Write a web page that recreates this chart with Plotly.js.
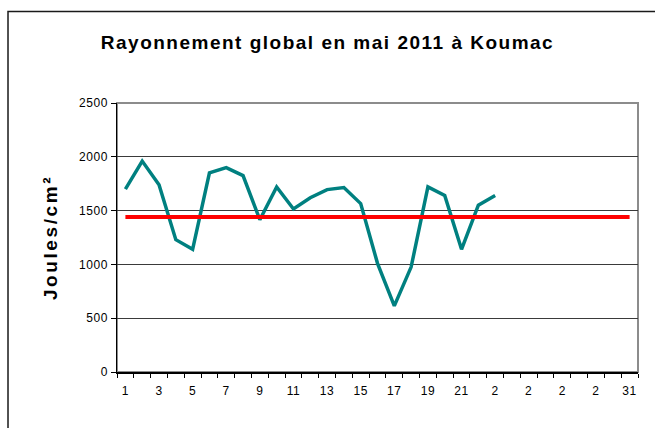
<!DOCTYPE html>
<html>
<head>
<meta charset="utf-8">
<script src="https://cdn.plot.ly/plotly-3.0.1.min.js"></script>
<style>
  html, body { margin: 0; padding: 0; background: #fff; }
  #chart { width: 655px; height: 428px; }
  .gtitle { letter-spacing: 1.5px; }
  .g-ytitle text { letter-spacing: 2.6px; }
  .xtick text, .ytick text { letter-spacing: 0.6px; }
</style>
</head>
<body>
<div id="chart"></div>
<script>
// Days of May 2011 (category axis)
const days = ['1','2','3','4','5','6','7','8','9','10','11','12','13','14','15','16',
              '17','18','19','20','21','22','23','24','25','26','27','28','29','30','31'];
// Tick labels as shown (Excel truncated 23..29 to "2")
const tickLabels = ['1','','3','','5','','7','','9','','11','','13','','15','',
                    '17','','19','','21','','2','','2','','2','','2','','31'];
// Daily global radiation (J/cm²), days 1..23
const rayonnement = [1700, 1960, 1740, 1230, 1140, 1850, 1900, 1825, 1415, 1720,
                     1515, 1620, 1695, 1715, 1565, 1010, 615, 975, 1720, 1640,
                     1140, 1550, 1640];
// Reference level (red line)
const reference = [1440,1440,1440,1440,1440,1440,1440,1440,1440,1440,1440,1440,1440,1440,1440,1440,
                   1440,1440,1440,1440,1440,1440,1440,1440,1440,1440,1440,1440,1440,1440,1440];
const yTicks = [0, 500, 1000, 1500, 2000, 2500];

const font = 'Liberation Sans, Arial, sans-serif';

const traces = [
  {
    x: days.slice(0, rayonnement.length),
    y: rayonnement,
    type: 'scatter',
    mode: 'lines',
    line: { color: '#008080', width: 3.5 },
    hoverinfo: 'skip'
  },
  {
    x: days,
    y: reference,
    type: 'scatter',
    mode: 'lines',
    line: { color: '#ff0000', width: 4 },
    hoverinfo: 'skip'
  }
];

const layout = {
  width: 655,
  height: 428,
  margin: { l: 117, r: 17, t: 103, b: 56, pad: 0 },
  paper_bgcolor: '#ffffff',
  plot_bgcolor: '#ffffff',
  showlegend: false,
  font: { family: font, color: '#000' },
  title: {
    text: 'Rayonnement global en mai 2011 à Koumac',
    font: { family: font, size: 19, color: '#000', weight: 'bold' },
    x: 0.5, xref: 'container', xanchor: 'center',
    y: 0.9, yref: 'container', yanchor: 'middle'
  },
  xaxis: {
    type: 'category',
    categoryorder: 'array',
    categoryarray: days,
    range: [-0.5, 30.5],
    tickmode: 'array',
    tickvals: days,
    ticktext: tickLabels,
    tickson: 'boundaries',
    tickangle: 0,
    ticks: 'outside',
    ticklen: 4,
    tickwidth: 1,
    tickcolor: '#000',
    showline: true,
    linecolor: '#000',
    linewidth: 1.5,
    showgrid: false,
    zeroline: false,
    tickfont: { family: font, size: 12, color: '#000' },
    ticklabelstandoff: 7,
    automargin: false,
    fixedrange: true
  },
  yaxis: {
    range: [0, 2500],
    tickmode: 'array',
    tickvals: yTicks,
    ticktext: yTicks.map(String),
    ticks: 'outside',
    ticklen: 5,
    tickwidth: 1,
    tickcolor: '#000',
    showline: true,
    linecolor: '#000',
    linewidth: 1.5,
    showgrid: true,
    gridcolor: '#3a3a3a',
    gridwidth: 1,
    zeroline: false,
    tickfont: { family: font, size: 12, color: '#000' },
    title: {
      text: 'Joules/cm²',
      font: { family: font, size: 19, color: '#000', weight: 'bold' },
      standoff: 16
    },
    automargin: false,
    fixedrange: true
  },
  shapes: [
    // plot-area border (grey, top/right)
    {
      type: 'rect', xref: 'paper', yref: 'paper',
      x0: 0, x1: 1, y0: 0, y1: 1,
      line: { color: '#8c8c8c', width: 2 },
      layer: 'between'
    },
    // outer chart frame
    {
      type: 'rect', xref: 'paper', yref: 'paper',
      x0: -0.2092, x1: 1.2, y0: -0.5, y1: 1.3401,
      line: { color: '#1a1a1a', width: 1.5 },
      layer: 'below'
    }
  ]
};

Plotly.newPlot('chart', traces, layout, { staticPlot: true, displayModeBar: false });
</script>
</body>
</html>
